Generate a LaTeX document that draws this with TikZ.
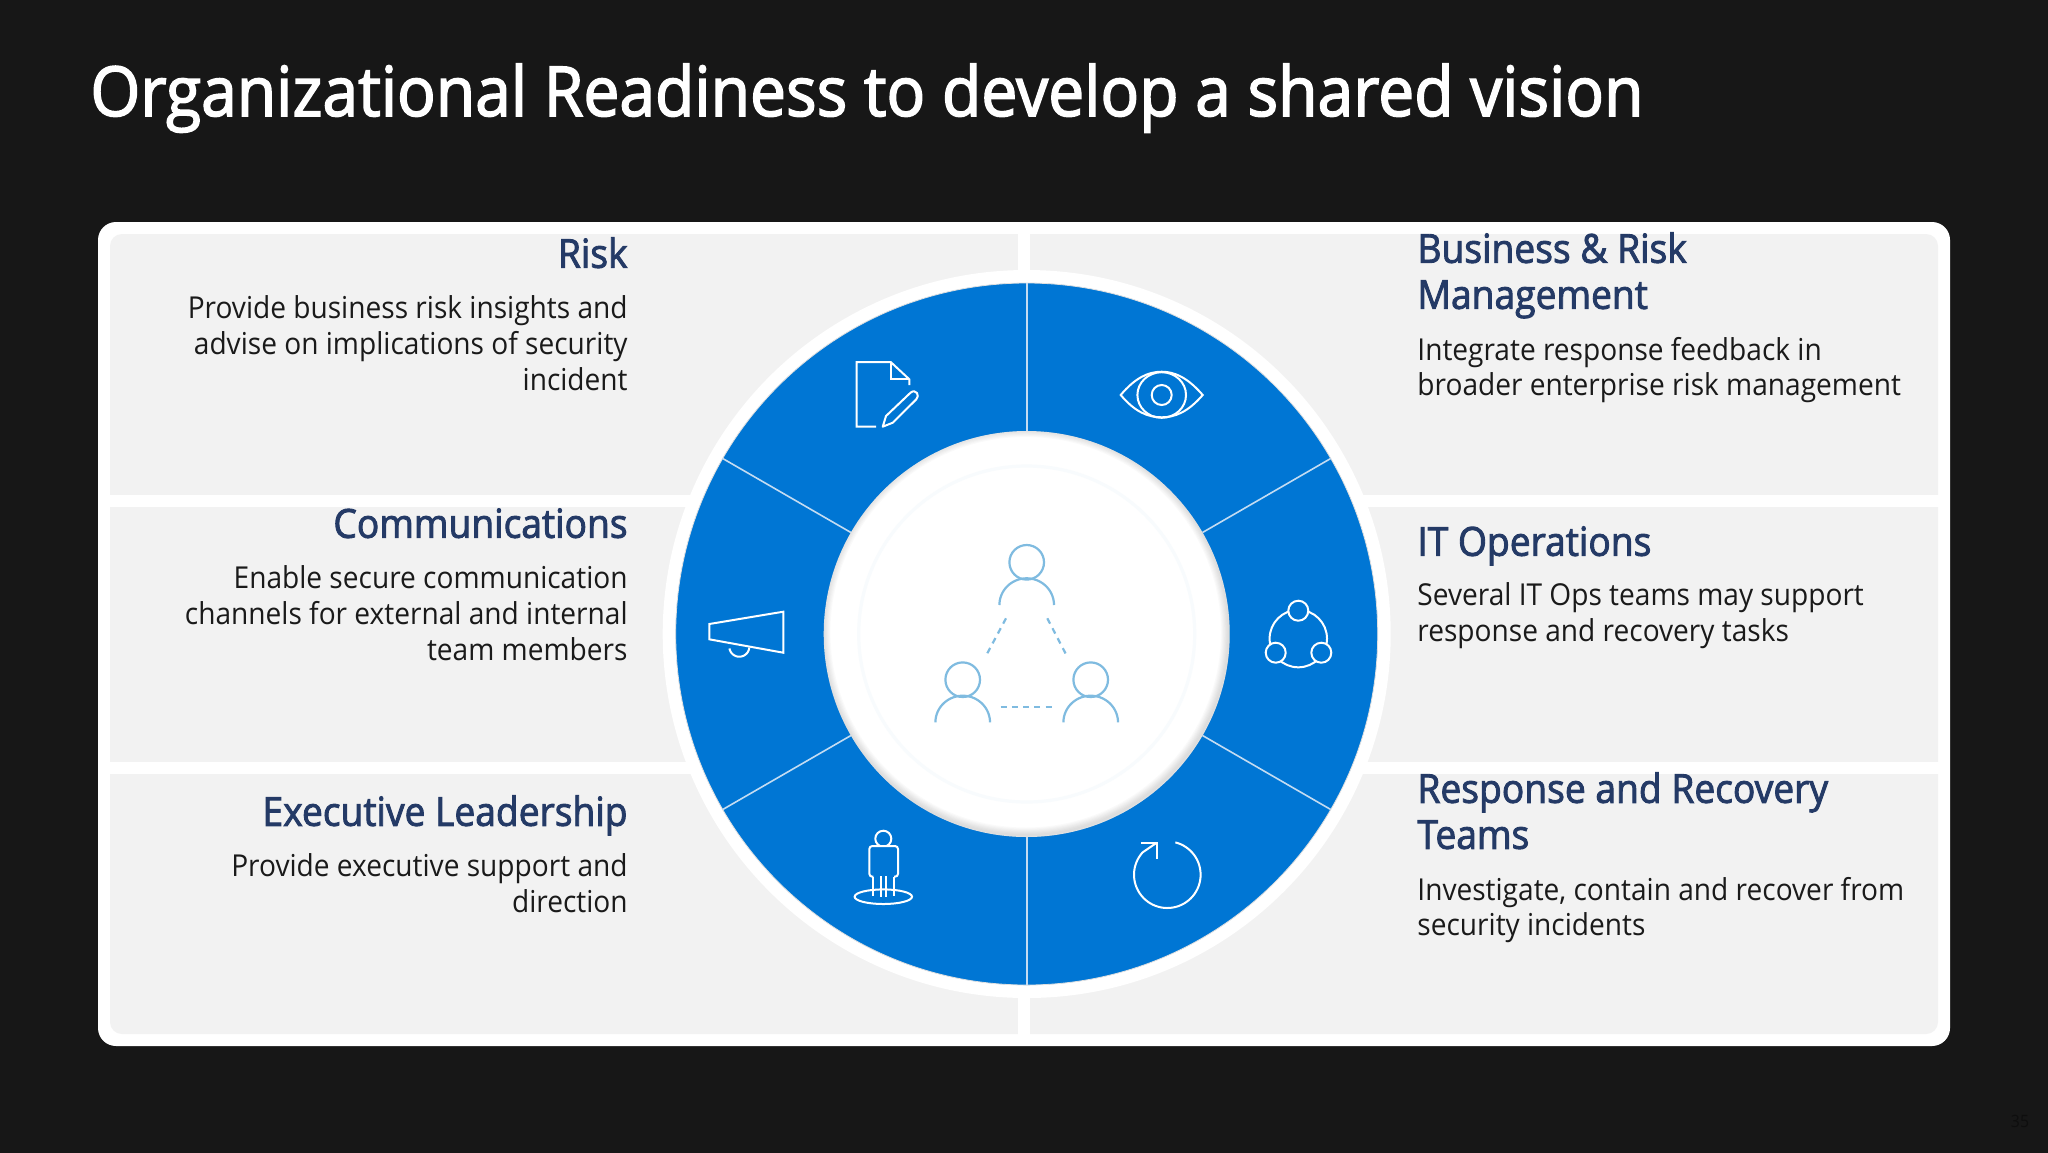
\documentclass[tikz,border=0pt]{standalone}
\usepackage{fontspec}
\setmainfont{Open Sans}[FakeStretch=0.93]
\newfontfamily\headfont{Open Sans}[FakeStretch=0.93,FakeBold=2.2]
\definecolor{bgdark}{HTML}{171717}
\definecolor{panel}{HTML}{F2F2F2}
\definecolor{ringblue}{HTML}{0076D4}
\definecolor{divider}{HTML}{C4DCF2}
\definecolor{headnavy}{HTML}{243A66}
\definecolor{bodyink}{HTML}{1A1A1A}
\definecolor{peopleblue}{HTML}{7FBBE0}
\definecolor{faintring}{HTML}{F8FBFD}
\definecolor{pagenum}{HTML}{0E0E0E}
\tikzset{
  x=0.5pt,y=-0.5pt,
  iconline/.style={draw=white,line width=1pt,line join=miter},
  peopleline/.style={draw=peopleblue,line width=1.1pt},
  linkdash/.style={draw=peopleblue,line width=1.1pt,dash pattern=on 3pt off 2.6pt},
  spoke/.style={draw=divider,line width=0.8pt},
  headl/.style={inner sep=0pt,anchor=north east,align=right,text=headnavy,font=\headfont\fontsize{20}{23}\selectfont},
  headr/.style={inner sep=0pt,anchor=north west,align=left,text=headnavy,font=\headfont\fontsize{20}{23}\selectfont},
  bodyl/.style={inner sep=0pt,anchor=north east,align=right,text=bodyink,font=\fontsize{15.1}{17.8}\selectfont},
  bodyr/.style={inner sep=0pt,anchor=north west,align=left,text=bodyink,font=\fontsize{15.1}{17.8}\selectfont},
}
\begin{document}
\begin{tikzpicture}
\useasboundingbox (0,0) rectangle (2048,1152);
\fill[bgdark] (-6,-6) rectangle (2054,1158);
\node[inner sep=0pt,anchor=base west,text=white,font=\headfont\fontsize{34.5}{40}\selectfont] (title) at (90,116) {Organizational Readiness to develop a shared vision};
% frame and panels
\fill[white,rounded corners=9pt] (98,222) rectangle (1950,1046);
\fill[panel,rounded corners=6pt] (110,234) rectangle (1938,1034);
\fill[white] (1018,230) rectangle (1030,1038);
\fill[white] (106,495) rectangle (1942,507);
\fill[white] (106,762) rectangle (1942,774);
% ring
\coordinate (c) at (1026.7,634);
\fill[white] (c) circle[radius=364];
\fill[ringblue,draw=black!12,line width=0.4pt] (c) circle[radius=351];
\foreach \a in {30,90,150,210,270,330}{
  \draw[spoke] ({1026.7+203*cos(\a)},{634+203*sin(\a)}) -- ({1026.7+351*cos(\a)},{634+351*sin(\a)});
}
% hub
\fill[white] (c) circle[radius=203];
\begin{scope}
  \clip (c) circle[radius=203];
  \foreach \i in {1,...,7}{
    \draw[black!60,opacity=0.03,line width=\i*1.1pt] (1025.7,632.2) circle[radius=203];
  }
\end{scope}
\draw[faintring,line width=1.6pt] (c) circle[radius=168];
% people
\foreach \px/\py in {1026.7/562.3,962.7/679.7,1090.7/679.7}{
  \draw[peopleline] (\px,\py) circle[radius=17.3];
  \draw[peopleline] plot[domain=180:360,samples=40] ({\px+27.3*cos(\x)},{\py+42.7+26.7*sin(\x)});
}
\draw[linkdash] (1006,618.3) -- (986,655.7);
\draw[linkdash] (1047.3,618.3) -- (1066.7,655.7);
\draw[linkdash] (1000.7,706.7) -- (1052,706.7);
% document icon
\draw[iconline] (876,426.7) -- (856.7,426.7) -- (856.7,362) -- (890.7,362) -- (909.3,379.3) -- (909.3,385);
\draw[iconline] (890.7,362) -- (890.7,379.3) -- (909.3,379.3);
\draw[iconline,line join=round] (882.7,426.7) -- (886,416) -- (910.5,392.7) .. controls (913,390.5) and (915.5,391) .. (917,393) .. controls (918.3,395) and (918,397.5) .. (916.3,399.3) -- (892.7,422.7) -- cycle;
% eye icon
\draw[iconline] (1120.7,395) .. controls (1135,378) and (1148,371.7) .. (1161.7,371.7) .. controls (1175,371.7) and (1188,378) .. (1202.7,395) .. controls (1188,412) and (1175,417.3) .. (1161.7,417.3) .. controls (1148,417.3) and (1135,412) .. (1120.7,395) -- cycle;
\draw[iconline] (1161.7,395) ellipse[x radius=24.3,y radius=22.8];
\draw[iconline] (1161.7,395) circle[radius=10];
% share icon
\draw[iconline] (1298.3,638.6) circle[radius=28.7];
\foreach \sx/\sy in {1298.3/610.7,1275.7/652.7,1321.3/652.7}{
  \draw[iconline,fill=ringblue] (\sx,\sy) circle[radius=10];
}
% megaphone
\draw[iconline] plot[domain=5:170,samples=30] ({739.3+10*cos(\x)},{646.7+10*sin(\x)});
\draw[iconline,fill=ringblue] (709.3,624) -- (783.3,611.7) -- (783.3,652.7) -- (709.3,639.3) -- cycle;
% person on spot
\draw[iconline] (883.3,838.7) circle[radius=8];
\draw[iconline,fill=ringblue,rounded corners=1.5pt] (873.3,876.7) -- (869.3,876.7) -- (869.3,846) -- (898,846) -- (898,876.7) -- (894,876.7);
\draw[iconline] (883.3,896.7) ellipse[x radius=28.7,y radius=7.3];
\draw[iconline] (873.3,876.7) -- (873.3,896) (894,876.7) -- (894,896) (880.8,876) -- (880.8,897) (886.1,876) -- (886.1,897);
% refresh
\draw[iconline,line join=round] plot[domain=-76:222,samples=60] ({1167.3+33.3*cos(\x)},{874.7+33.3*sin(\x)}) -- (1156.7,842.7);
\draw[iconline] (1141,842.7) -- (1156.7,842.7) -- (1156.7,859.3);
% left column
\node[headl] (riskh) at (628,237) {Risk};
\node[bodyl] (riskb) at (628,295.5) {Provide business risk insights and\\advise on implications of security\\incident};
\node[headl] (commh) at (628,508) {Communications};
\node[bodyl] (commb) at (628,565.5) {Enable secure communication\\channels for external and internal\\team members};
\node[headl] (exech) at (628,795) {Executive Leadership};
\node[bodyl] (execb) at (628,853.5) {Provide executive support and\\direction};
% right column
\node[headr] (brmh) at (1417,232) {Business \& Risk\\Management};
\node[bodyr] (brmb) at (1417,336.5) {Integrate response feedback in\\broader enterprise risk management};
\node[headr] (itoh) at (1417,526) {IT Operations};
\node[bodyr] (itob) at (1417,582.5) {Several IT Ops teams may support\\response and recovery tasks};
\node[headr] (rrth) at (1417,772) {Response and Recovery\\Teams};
\node[bodyr] (rrtb) at (1417,876.5) {Investigate, contain and recover from\\security incidents};
\node[inner sep=0pt,text=pagenum,font=\fontsize{8.5}{10}\selectfont] (pg) at (2020,1121) {35};
\end{tikzpicture}
\end{document}
